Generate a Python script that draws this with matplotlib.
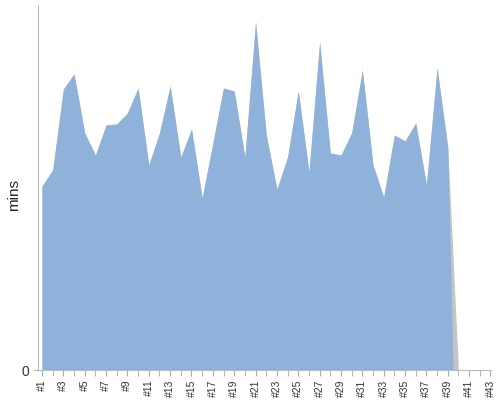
import matplotlib
matplotlib.use("Agg")
import matplotlib.pyplot as plt
import numpy as np

plt.rcParams['font.family'] = ['Liberation Sans', 'DejaVu Sans']

categories = [f"#{i}" for i in range(1, 44)]
mins = [18.4, 20.0, 28.1, 29.6, 23.7, 21.5, 24.5, 24.6, 25.7, 28.2,
        20.5, 23.7, 28.4, 21.3, 24.1, 17.2, 22.7, 28.2, 27.9, 21.3,
        34.8, 23.5, 18.1, 21.3, 27.9, 19.8, 32.8, 21.7, 21.5, 23.7,
        30.0, 20.5, 17.3, 23.5, 22.9, 24.7, 18.5, 30.2, 22.3, 0.0]

fig = plt.figure(figsize=(5, 4), dpi=100)
ax = fig.add_axes([0.076, 0.075, 0.906, 0.9125])

x = np.arange(1, len(mins) + 1)
# gray edge series behind
ax.fill_between(x, 0, mins, color='#c4c4c4', linewidth=0)
# blue series, ending halfway to the last category
xb = np.append(x[:-1], x[-2] + 0.5)
yb = mins[:-1] + [0.0]
ax.fill_between(xb, 0, yb, color='#8fb2da', linewidth=0)

ax.set_xlim(0.625, 43.05)
ax.set_ylim(0, 36.5)

ax.set_xticks(np.arange(1, 44, 2))
ax.set_xticklabels(categories[::2], rotation=90, fontsize=7.5, color='#333333')
ax.set_xticks(np.arange(1, 44), minor=True)
ax.tick_params(axis='x', which='both', length=4, color='#aaaaaa', pad=3)
ax.set_yticks([0])
ax.set_yticklabels(['0'], fontsize=10, color='#333333')
ax.tick_params(axis='y', length=3, color='#aaaaaa')
ax.set_ylabel('mins', fontsize=11, color='#222222', va='center')
ax.yaxis.set_label_coords(-0.053, 0.48)

for s in ['top', 'right']:
    ax.spines[s].set_visible(False)
for s in ['left', 'bottom']:
    ax.spines[s].set_color('#bbbbbb')

fig.savefig('out.png', dpi=100)
